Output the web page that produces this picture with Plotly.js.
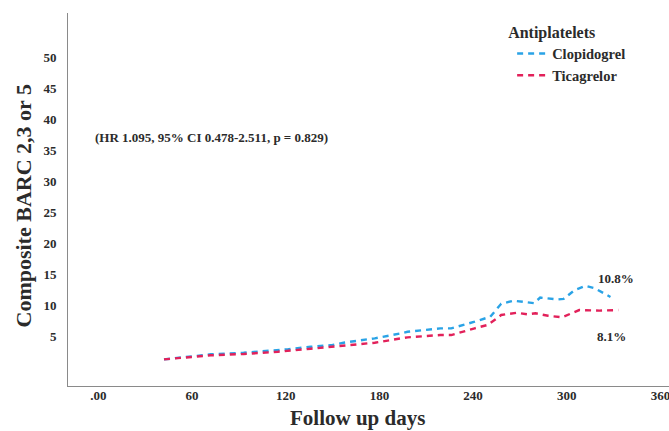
<!DOCTYPE html>
<html>
<head>
<meta charset="utf-8">
<script src="https://cdn.plot.ly/plotly-3.0.1.min.js"></script>
<style>
html,body{margin:0;padding:0;background:#fff;}
#chart{width:669px;height:431px;}
#chart text{font-family:'Liberation Serif','Times New Roman',serif !important;}
</style>
</head>
<body>
<div id="chart"></div>
<script>
// Follow-up days and cumulative event rates (%)
const clopidogrelDays = [42, 57, 72, 93, 108, 121, 136, 150, 157, 177, 194, 198, 219, 226, 241, 249, 251, 255, 258, 266, 273, 279, 283, 294, 298, 305, 312, 318, 328];
const clopidogrelRate = [1.24, 1.66, 2.05, 2.31, 2.58, 2.85, 3.27, 3.55, 3.92, 4.63, 5.44, 5.69, 6.24, 6.24, 7.31, 8.02, 8.11, 9.3, 10.2, 10.7, 10.5, 10.3, 11.2, 10.9, 11.0, 12.4, 13.1, 12.7, 11.3];
const ticagrelorDays = [42, 72, 93, 115, 136, 157, 177, 194, 198, 219, 226, 241, 249, 255, 258, 268, 275, 280, 288, 297, 308, 321, 333];
const ticagrelorRate = [1.24, 1.89, 2.10, 2.47, 2.95, 3.39, 3.92, 4.63, 4.79, 5.16, 5.16, 6.24, 6.77, 7.8, 8.39, 8.76, 8.5, 8.66, 8.27, 8.02, 9.19, 9.1, 9.19];
const xTickVals = [0, 60, 120, 180, 240, 300, 360];
const xTickText = ['.00', '60', '120', '180', '240', '300', '360'];
const yTickVals = [5, 10, 15, 20, 25, 30, 35, 40, 45, 50];
const yTickText = ['5', '10', '15', '20', '25', '30', '35', '40', '45', '50'];
const seriesNames = ['Clopidogrel', 'Ticagrelor'];
const endLabels = ['10.8%', '8.1%'];
const hrText = '(HR 1.095, 95% CI 0.478-2.511, p = 0.829)';

const serif = 'Liberation Serif';
const txt = '#2b2b2b';
const b = s => '<b>' + s + '</b>';

const traces = [
  {x: clopidogrelDays, y: clopidogrelRate, name: b(seriesNames[0]), type: 'scatter', mode: 'lines',
   line: {color: '#2aa3e6', width: 2.4, dash: '6px,5px'}},
  {x: ticagrelorDays, y: ticagrelorRate, name: b(seriesNames[1]), type: 'scatter', mode: 'lines',
   line: {color: '#e2215a', width: 2.4, dash: '6px,5px'}}
];

const layout = {
  width: 669, height: 431,
  margin: {l: 68, r: 0, t: 13, b: 45, pad: 0},
  paper_bgcolor: '#fff', plot_bgcolor: '#fff',
  font: {family: serif, color: txt, size: 13},
  showlegend: true,
  legend: {
    x: 0.729, y: 0.99, xanchor: 'left', yanchor: 'top',
    bgcolor: 'rgba(0,0,0,0)', borderwidth: 0,
    font: {family: serif, size: 14.5, color: txt},
    title: {text: b('Antiplatelets'), font: {family: serif, size: 16, color: txt}},
    indentation: 6, itemwidth: 30, tracegroupgap: 0
  },
  xaxis: {
    range: [-19.5, 365.5], showgrid: false, zeroline: false,
    showline: true, linecolor: '#8a8a8a', linewidth: 1,
    tickmode: 'array', tickvals: xTickVals, ticktext: xTickText.map(b),
    ticks: '', ticklabelstandoff: -3, ticklabeloverflow: 'allow',
    tickfont: {family: serif, size: 13, color: txt}
  },
  yaxis: {
    range: [-3.06, 57.1], showgrid: false, zeroline: false,
    showline: true, linecolor: '#8a8a8a', linewidth: 1,
    tickmode: 'array', tickvals: yTickVals, ticktext: yTickText.map(b),
    ticks: 'outside', ticklen: 8, tickcolor: 'rgba(0,0,0,0)',
    tickfont: {family: serif, size: 13, color: txt}
  },
  annotations: [
    {xref: 'paper', yref: 'paper', x: 0, y: 0.5, xshift: -45, yshift: -7,
     text: b('Composite BARC 2,3 or 5'), textangle: -90, showarrow: false,
     xanchor: 'center', yanchor: 'middle', font: {family: serif, size: 22, color: txt}},
    {xref: 'paper', yref: 'paper', x: 0.5, y: 0, xshift: -11, yshift: -32,
     text: b('Follow up days'), showarrow: false,
     xanchor: 'center', yanchor: 'middle', font: {family: serif, size: 21, color: txt}},
    {xref: 'x', yref: 'y', x: 72.7, y: 37.1, text: b(hrText), showarrow: false,
     xanchor: 'center', yanchor: 'middle', font: {family: serif, size: 13, color: txt}},
    {xref: 'x', yref: 'y', x: 331.7, y: 14.2, text: b(endLabels[0]), showarrow: false,
     xanchor: 'center', yanchor: 'middle', font: {family: serif, size: 13, color: txt}},
    {xref: 'x', yref: 'y', x: 328.5, y: 5.0, text: b(endLabels[1]), showarrow: false,
     xanchor: 'center', yanchor: 'middle', font: {family: serif, size: 13, color: txt}}
  ]
};

Plotly.newPlot('chart', traces, layout, {displayModeBar: false, staticPlot: true});
</script>
</body>
</html>
